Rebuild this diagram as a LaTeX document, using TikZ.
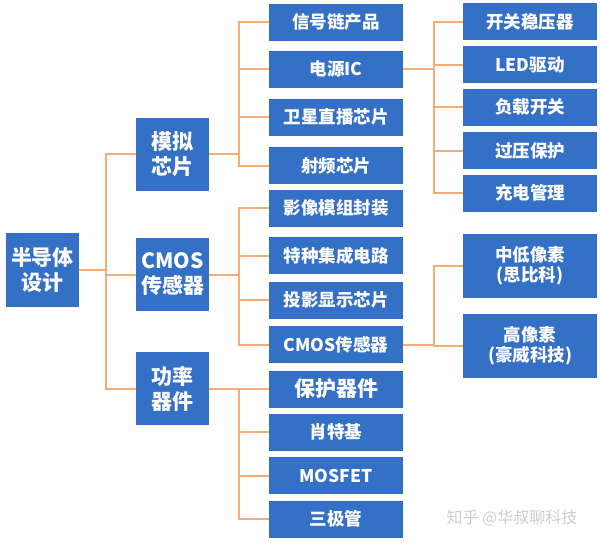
\documentclass[tikz,border=0pt]{standalone}
\usepackage{fontspec}
\usepackage{tikz}
\newfontfamily\cjk{Noto Sans CJK SC}
\definecolor{boxblue}{RGB}{52,112,198}
\definecolor{linkorange}{RGB}{246,172,120}
\definecolor{markgray}{RGB}{205,205,205}
\tikzset{
  box/.style={fill=boxblue, text=white, inner sep=0pt, align=center,
    font=\cjk\bfseries\fontsize{17.5}{20}\selectfont},
  rootbox/.style={box, minimum width=73pt, minimum height=74pt,
    font=\cjk\bfseries\fontsize{21}{25}\selectfont},
  catbox/.style={box, minimum width=73pt, minimum height=73pt,
    font=\cjk\bfseries\fontsize{21}{25}\selectfont},
  itembox/.style={box, minimum width=134pt, minimum height=37pt},
  subbox/.style={box, minimum width=134pt, minimum height=64pt},
  link/.style={draw=linkorange, line width=2pt}
}
\begin{document}
\begin{tikzpicture}[x=1pt, y=-1pt]
    \useasboundingbox (0,0) rectangle (600,542);

    % Root and categories
    \node[rootbox] (design) at (42.5,270) {半导体\\设计};
    \node[catbox] (analog) at (172.5,154) {模拟\\芯片};
    \node[catbox] (cmos) at (172.5,274.5) {CMOS\\传感器};
    \node[catbox] (power) at (172.5,388.5) {功率\\器件};

    % Analog chips
    \node[itembox] (signal) at (336,22) {信号链产品};
    \node[itembox] (pmic) at (336,69) {电源IC};
    \node[itembox] (sat) at (336,117) {卫星直播芯片};
    \node[itembox] (rf) at (336,165.5) {射频芯片};

    % CMOS sensors
    \node[itembox] (module) at (336,208) {影像模组封装};
    \node[itembox] (special) at (336,255.5) {特种集成电路};
    \node[itembox] (proj) at (336,300) {投影显示芯片};
    \node[itembox] (sensor) at (336,344.5) {CMOS传感器};

    % Power devices
    \node[itembox, font=\cjk\bfseries\fontsize{21}{24}\selectfont] (protect) at (336,389) {保护器件};
    \node[itembox] (schottky) at (336,432) {肖特基};
    \node[itembox] (mosfet) at (336,475.5) {MOSFET};
    \node[itembox] (bjt) at (336,519) {三极管};

    % Power IC items
    \node[itembox] (reg) at (530,21.5) {开关稳压器};
    \node[itembox] (led) at (530,64.5) {LED驱动};
    \node[itembox] (load) at (530,107) {负载开关};
    \node[itembox] (ovp) at (530,150.5) {过压保护};
    \node[itembox] (charge) at (530,193) {充电管理};

    % Sensor makers
    \node[subbox] (lowpix) at (530,266) {中低像素\\(思比科)};
    \node[subbox] (highpix) at (530,345.5) {高像素\\(豪威科技)};

    % Links
    \foreach \c in {analog, cmos, power}
        \draw[link] (design.east) -- ++(27,0) |- (\c.west);
    \foreach \c in {signal, pmic, sat, rf}
        \draw[link] (analog.east) -- ++(30,0) |- (\c.west);
    \foreach \c in {module, special, proj, sensor}
        \draw[link] (cmos.east) -- ++(30,0) |- (\c.west);
    \foreach \c in {protect, schottky, mosfet, bjt}
        \draw[link] (power.east) -- ++(30,0) |- (\c.west);
    \foreach \c in {reg, led, load, ovp, charge}
        \draw[link] (pmic.east) -- ++(31,0) |- (\c.west);
    \foreach \c in {lowpix, highpix}
        \draw[link] (sensor.east) -- ++(31,0) |- (\c.west);

    % Watermark
    \node[text=markgray, font=\cjk\fontsize{16}{18}\selectfont] (mark) at (512,518) {知乎 @华叔聊科技};
\end{tikzpicture}
\end{document}
